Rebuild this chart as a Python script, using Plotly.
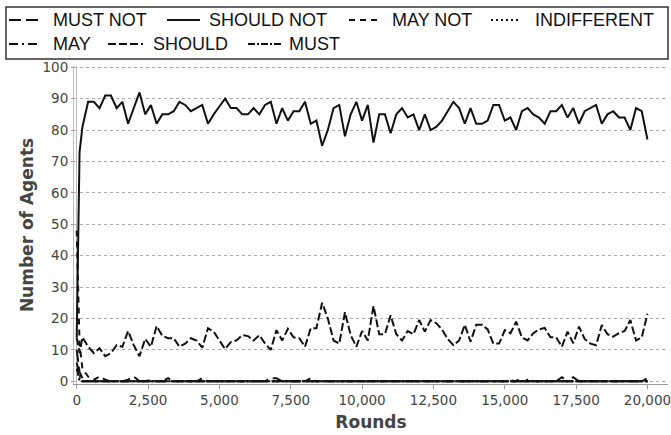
import plotly.graph_objects as go

# ---------------- data ----------------
rounds = [0, 100] + list(range(200, 20001, 200))

should_not = [14, 73, 81, 89, 89, 87, 91, 91, 87, 89, 82, 87, 92, 85, 88, 82, 85, 85, 86, 89,
              88, 86, 87, 88, 82, 85, 87.5, 90, 87, 87, 85, 85, 87, 85, 88, 89, 82, 87, 83, 86,
              86, 89, 82, 83, 75, 80, 87, 88, 78, 85, 89, 83, 88, 76, 85, 85, 79, 85, 87, 84,
              85, 80, 85, 80, 81, 83, 86, 89, 87, 82, 87, 82, 82, 83, 88, 88, 83, 84, 80, 86,
              87, 85, 84, 82, 86, 86, 88, 84, 87, 82, 86, 87, 88, 82, 85, 86, 84, 84, 80, 87,
              86, 77]

should = [14, 9, 14, 11, 9, 10.5, 8, 9, 11.5, 11, 16, 11.5, 8, 13.5, 11, 17.6, 14.5, 13.7, 13.7, 11,
          12, 13.7, 13, 10.7, 16.9, 15.8, 13, 10.3, 12.5, 13, 14.7, 14.4, 13, 14.7, 12, 10, 16.3, 13, 16.7, 14,
          13.7, 11, 16.9, 16.9, 25, 20, 13, 12, 22, 14.7, 11, 16, 13, 24, 15, 15, 21, 15, 13, 16,
          15, 19.5, 15.8, 19.5, 18.5, 16.5, 13.5, 11.5, 13, 18, 12.6, 18, 18, 16.5, 12, 12, 16.3, 15.3, 19, 14,
          13, 15.3, 16.5, 17, 14, 14, 11, 15.8, 12.1, 17.4, 13.5, 12, 11.5, 17.9, 15, 14.2, 15.3, 16, 19.5, 13,
          14, 21.5]

must_not = [10, 3, 1, 0, 0, 0, 0, 0, 0, 0, 0, 0, 0, 0, 0, 0, 0, 0, 0, 0,
            0, 0, 0, 0, 0, 0, 0, 0, 0, 0, 0, 0, 0, 0, 0, 1, 1, 0, 0, 0,
            0, 0, 0, 0, 0, 0, 0, 0, 0, 0, 0, 0, 0, 0, 0, 0, 0, 0, 0, 0,
            0, 0, 0, 0, 0, 0, 0, 0, 0, 0, 0, 0, 0, 0, 0, 0, 0, 0, 0, 0,
            0, 0, 0, 0, 0, 0, 0, 0, 0, 0, 0, 0, 0, 0, 0, 0, 0, 0, 0, 0,
            0, 0]

may_not = [48, 12, 4, 1.5, 0.5, 1.5, 0.5, 0, 0, 0, 0.5, 1.5, 0, 0, 0.5, 0, 0, 1, 0, 0,
           0, 0, 0, 1, 0, 0, 0, 0, 0, 0, 0, 0, 0, 0, 0, 0, 0, 0, 0, 0,
           0, 0, 1, 0, 0, 0, 0, 0, 0, 0, 0, 0, 0, 0, 0, 0, 0, 0, 0, 0,
           0, 0, 0, 0, 0, 0, 0, 0, 0, 0, 0, 0, 0, 0, 0, 0, 0, 0, 0, 0,
           0, 0, 0, 0, 0, 0, 0, 0, 0, 0, 0, 0, 0, 0, 0, 0, 0, 0, 0, 0,
           0, 0]

indifferent = [4, 0, 0, 0, 0, 0, 0, 0, 0, 0, 0, 0, 0, 0, 0, 0, 0, 0, 0, 0,
               0, 0, 0, 0, 0, 0, 0, 0, 0, 0, 0, 0, 0, 0, 0, 0, 0, 0, 0, 0,
               0, 0, 0, 0, 0, 0, 0, 0, 0, 0, 0, 0, 0, 0, 0, 0, 0, 0, 0, 0,
               0, 0, 0, 0, 0, 0, 0, 0, 0, 0, 0, 0, 0, 0, 0, 0, 0, 0, 0.5, 0,
               0.5, 0, 0, 0, 0, 0, 0, 0, 0, 0, 0, 0, 0, 0, 0, 0, 0, 0, 0, 0,
               0, 0]

may = [6, 2, 0, 0, 0, 0, 0, 0, 0, 0, 0, 0, 0, 0, 0, 0, 0, 0, 0, 0,
       0, 0, 0, 0, 0, 0, 0, 0, 0, 0, 0, 0, 0, 0, 0, 0, 0, 0, 0, 0,
       0, 0, 0, 0, 0, 0, 0, 0, 0, 0, 0, 0, 0, 0, 0, 0, 0, 0, 0, 0,
       0, 0, 0, 0, 0, 0, 0, 0, 0, 0, 0, 0, 0, 0, 0, 0, 0, 0, 0, 0,
       0, 0, 0, 0, 0, 0, 1.3, 0, 1.3, 0, 0, 0, 0, 0, 0, 0, 0, 0, 0, 0,
       0, 0]

must = [4, 1, 0, 0, 0, 0, 0, 0, 0, 0, 0, 0, 0, 0, 0, 0, 0, 0, 0, 0,
        0, 0, 0, 0, 0, 0, 0, 0, 0, 0, 0, 0, 0, 0, 0, 0, 0, 0, 0, 0,
        0, 0, 0, 0, 0, 0, 0, 0, 0, 0, 0, 0, 0, 0, 0, 0, 0, 0, 0, 0,
        0, 0, 0, 0, 0, 0, 0, 0, 0, 0, 0, 0, 0, 0, 0, 0, 0, 0, 0, 0,
        0, 0, 0, 0, 0, 0, 0, 0, 0, 0, 0, 0, 0, 0, 0, 0, 0, 0, 0, 0,
        0, 1]

series_names = ["MUST NOT", "SHOULD NOT", "MAY NOT", "INDIFFERENT", "MAY", "SHOULD", "MUST"]
series_values = [must_not, should_not, may_not, indifferent, may, should, must]
x_ticks = [0, 2500, 5000, 7500, 10000, 12500, 15000, 17500, 20000]
y_ticks = [0, 10, 20, 30, 40, 50, 60, 70, 80, 90, 100]

# ---------------- styles ----------------
dashes = {
    "MUST NOT": "12px,5px",
    "SHOULD NOT": "solid",
    "MAY NOT": "6px,5px",
    "INDIFFERENT": "2px,3px",
    "MAY": "9px,4px,2px,4px",
    "SHOULD": "8px,3px",
    "MUST": "7px,2px,2px,2px",
}
# draw order: small series first, dominant last
order = ["INDIFFERENT", "MAY", "MUST", "MUST NOT", "MAY NOT", "SHOULD", "SHOULD NOT"]

W, H = 671, 435
L, R, T, B = 74, 3, 66, 51
PW, PH = W - L - R, H - T - B


def pxx(x):
    return (x - L) / PW


def pyy(y):
    return (H - B - y) / PH


fig = go.Figure()
for name in order:
    vals = series_values[series_names.index(name)]
    fig.add_trace(go.Scatter(
        x=rounds, y=vals, mode="lines", name=name, showlegend=False,
        line=dict(color="#111111", width=2, dash=dashes[name]),
    ))

# ---------------- manual legend ----------------
legend_rows = [
    [("MUST NOT", 9, 38, 52), ("SHOULD NOT", 167, 200, 208), ("MAY NOT", 349, 381, 391),
     ("INDIFFERENT", 491, 521, 534)],
    [("MAY", 9, 38, 52), ("SHOULD", 108, 143, 152), ("MUST", 248, 282, 288)],
]
row_y = [20, 44]
shapes = [dict(type="rect", xref="paper", yref="paper",
               x0=pxx(6), x1=pxx(668), y0=pyy(7), y1=pyy(59),
               line=dict(color="#333333", width=1.5), fillcolor="white", layer="below")]
annotations = []
for ry, row in zip(row_y, legend_rows):
    for name, s0, s1, tx in row:
        shapes.append(dict(type="line", xref="paper", yref="paper",
                           x0=pxx(s0), x1=pxx(s1), y0=pyy(ry), y1=pyy(ry),
                           line=dict(color="#111111", width=2, dash=dashes[name])))
        annotations.append(dict(text=name, xref="paper", yref="paper",
                                x=pxx(tx), y=pyy(ry), xanchor="left", yanchor="middle",
                                showarrow=False, borderpad=0,
                                font=dict(family="Liberation Sans, Arial", size=18, color="#111111")))

fig.update_layout(
    width=W, height=H,
    margin=dict(l=L, r=R, t=T, b=B, pad=0, autoexpand=False),
    paper_bgcolor="white", plot_bgcolor="white",
    shapes=shapes, annotations=annotations,
    font=dict(family="DejaVu Sans", color="#444444"),
    xaxis=dict(
        automargin=False,
        range=[-95, 20720], tickvals=x_ticks, tickformat=",",
        showgrid=False, zeroline=True, zerolinecolor="#bbbbbb", zerolinewidth=1,
        showline=True, linecolor="#999999", linewidth=1,
        ticks="outside", ticklen=4, tickcolor="#999999",
        ticklabeloverflow="allow",
        tickfont=dict(family="DejaVu Sans", size=13.5, color="#444444"),
        title=dict(text="<b>Rounds</b>", standoff=8,
                   font=dict(family="DejaVu Sans", size=17, color="#444444")),
    ),
    yaxis=dict(
        automargin=False,
        range=[-0.86, 100.4], tickvals=y_ticks,
        showgrid=True, gridcolor="#aaaaaa", gridwidth=1, griddash="dot",
        zeroline=False,
        showline=True, linecolor="#bbbbbb", linewidth=1,
        ticks="outside", ticklen=2, tickcolor="#999999",
        tickfont=dict(family="DejaVu Sans", size=13.5, color="#444444"),
        title=dict(text="<b>Number of Agents</b>", standoff=4,
                   font=dict(family="DejaVu Sans", size=17, color="#444444")),
    ),
)

fig.write_html("out.html", config={"displayModeBar": False},
               post_script="document.body.style.margin='0px';")
